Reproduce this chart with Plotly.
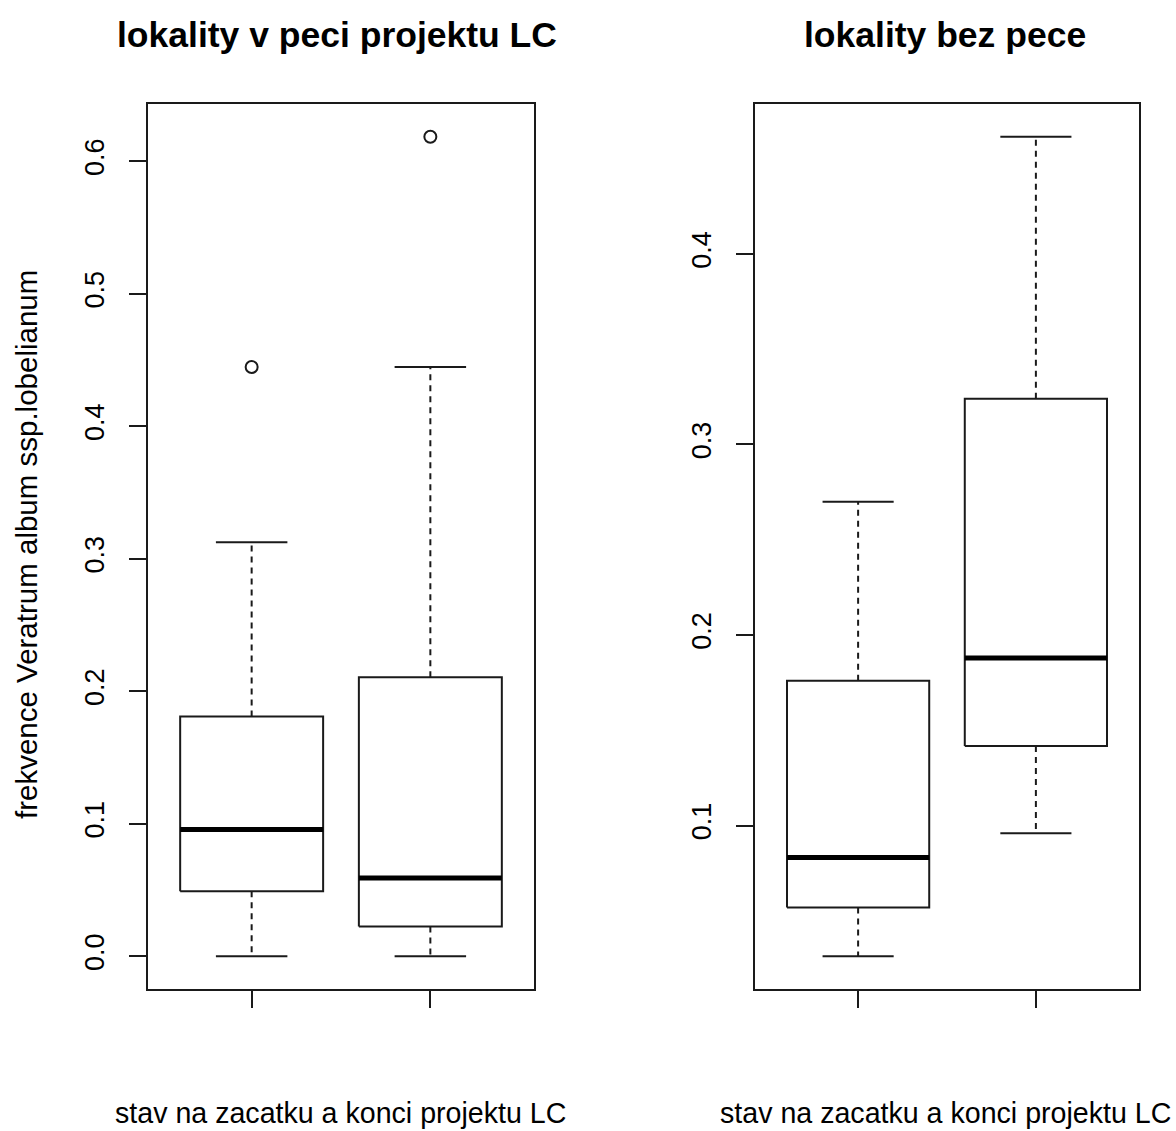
import plotly.graph_objects as go

# ---- data ----
panel_titles = ["lokality v peci projektu LC", "lokality bez pece"]
x_title = "stav na zacatku a konci projektu LC"
y_title = "frekvence Veratrum album ssp.lobelianum"
groups = [1, 2]

# left panel: lokality v peci projektu LC
left_lower = [0.0, 0.0]
left_q1 = [0.0491, 0.0225]
left_median = [0.0956, 0.059]
left_q3 = [0.181, 0.2105]
left_upper = [0.3125, 0.4447]
left_out_x = [1, 2]
left_out_y = [0.4447, 0.6185]

# right panel: lokality bez pece
right_lower = [0.0314, 0.096]
right_q1 = [0.057, 0.1417]
right_median = [0.0832, 0.1879]
right_q3 = [0.176, 0.324]
right_upper = [0.2699, 0.4615]
right_out_x = []
right_out_y = []

left_ticks = [0.0, 0.1, 0.2, 0.3, 0.4, 0.5, 0.6]
left_ticktext = ["0.0", "0.1", "0.2", "0.3", "0.4", "0.5", "0.6"]
right_ticks = [0.1, 0.2, 0.3, 0.4]
right_ticktext = ["0.1", "0.2", "0.3", "0.4"]

FONT = "Liberation Sans, Arial, sans-serif"
BOX_HALF = 0.4
CAP_HALF = 0.2
INK = "#1a1a1a"

fig = go.Figure()


def add_boxes(xa, ya, lower, q1, med, q3, upper, ox, oy):
    for i, g in enumerate(groups):
        # box
        fig.add_trace(go.Scatter(
            x=[g - BOX_HALF, g + BOX_HALF, g + BOX_HALF, g - BOX_HALF, g - BOX_HALF],
            y=[q1[i], q1[i], q3[i], q3[i], q1[i]],
            mode="lines", line=dict(color=INK, width=2),
            xaxis=xa, yaxis=ya, showlegend=False, hoverinfo="skip"))
        # median
        fig.add_trace(go.Scatter(
            x=[g - BOX_HALF, g + BOX_HALF], y=[med[i], med[i]],
            mode="lines", line=dict(color="black", width=5),
            xaxis=xa, yaxis=ya, showlegend=False, hoverinfo="skip"))
        # whiskers (dashed)
        for a, b in [(q3[i], upper[i]), (q1[i], lower[i])]:
            fig.add_trace(go.Scatter(
                x=[g, g], y=[a, b], mode="lines",
                line=dict(color=INK, width=2, dash="6px,5px"),
                xaxis=xa, yaxis=ya, showlegend=False, hoverinfo="skip"))
        # caps
        for v in [upper[i], lower[i]]:
            fig.add_trace(go.Scatter(
                x=[g - CAP_HALF, g + CAP_HALF], y=[v, v], mode="lines",
                line=dict(color=INK, width=2),
                xaxis=xa, yaxis=ya, showlegend=False, hoverinfo="skip"))
    if ox:
        fig.add_trace(go.Scatter(
            x=ox, y=oy, mode="markers",
            marker=dict(symbol="circle-open", size=12, color=INK, line=dict(width=2)),
            xaxis=xa, yaxis=ya, showlegend=False, hoverinfo="skip"))


add_boxes("x", "y", left_lower, left_q1, left_median, left_q3, left_upper, left_out_x, left_out_y)
add_boxes("x2", "y2", right_lower, right_q1, right_median, right_q3, right_upper, right_out_x, right_out_y)

W, H = 1176, 1131
ydom = [1 - 989 / H, 1 - 104 / H]


def yrange(lo_vals, hi_vals, extra):
    lo = min(lo_vals + extra)
    hi = max(hi_vals + extra)
    d = (hi - lo) * 0.04
    return [lo - d, hi + d]


xcommon = dict(range=[0.42, 2.58], showgrid=False, zeroline=False,
               showline=True, mirror=True, linecolor=INK, linewidth=2,
               ticks="outside", ticklen=17, tickwidth=2, tickcolor=INK,
               tickvals=groups, showticklabels=False)
ycommon = dict(showgrid=False, zeroline=False,
               showline=True, mirror=True, linecolor=INK, linewidth=2,
               ticks="outside", ticklen=17, tickwidth=2, tickcolor=INK,
               tickangle=-90, ticklabelstandoff=14,
               tickfont=dict(family=FONT, size=27, color="black"))

fig.update_layout(
    width=W, height=H,
    margin=dict(l=0, r=0, t=0, b=0),
    paper_bgcolor="white", plot_bgcolor="white",
    font=dict(family=FONT, color="black"),
    xaxis=dict(domain=[148 / W, 534 / W], anchor="y", **xcommon),
    xaxis2=dict(domain=[755 / W, 1139 / W], anchor="y2", **xcommon),
    yaxis=dict(domain=ydom, anchor="x",
               range=yrange(left_lower, left_upper, left_out_y),
               tickvals=left_ticks, ticktext=left_ticktext, **ycommon),
    yaxis2=dict(domain=ydom, anchor="x2",
                range=yrange(right_lower, right_upper, right_out_y),
                tickvals=right_ticks, ticktext=right_ticktext, **ycommon),
)

annotations = [
    dict(text="<b>" + panel_titles[0] + "</b>", x=337 / W, y=1 - 35 / H,
         font=dict(size=35.5, family=FONT, color="black")),
    dict(text="<b>" + panel_titles[1] + "</b>", x=945 / W, y=1 - 35 / H,
         font=dict(size=35.5, family=FONT, color="black")),
    dict(text=x_title, x=340 / W, y=1 - 1113 / H,
         font=dict(size=28.6, family=FONT, color="black")),
    dict(text=x_title, x=945 / W, y=1 - 1113 / H,
         font=dict(size=28.6, family=FONT, color="black")),
    dict(text=y_title, x=27 / W, y=1 - 545 / H, textangle=-90,
         font=dict(size=29.5, family=FONT, color="black")),
]
for a in annotations:
    a.update(xref="paper", yref="paper", showarrow=False,
             xanchor="center", yanchor="middle")
fig.update_layout(annotations=annotations)

fig.write_html("out.html")
